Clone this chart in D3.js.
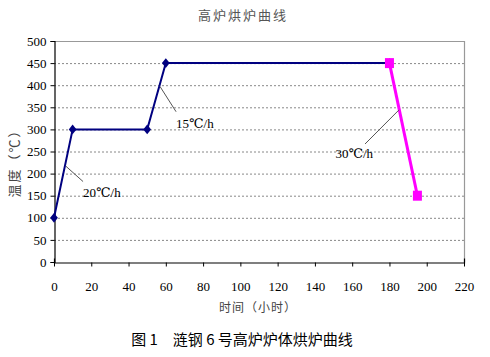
<!DOCTYPE html>
<html><head><meta charset="utf-8">
<script src="https://cdn.jsdelivr.net/npm/d3@7"></script>
<style>body{margin:0;background:#fff}svg{display:block}</style>
</head><body><svg id="c" width="490" height="357"></svg>
<script>
const heatX = [0, 10, 50, 60, 180];
const heatY = [100, 300, 300, 450, 450];
const coolX = [180, 195];
const coolY = [450, 150];
const xTicks = [0,20,40,60,80,100,120,140,160,180,200,220];
const yTicks = [0,50,100,150,200,250,300,350,400,450,500];
const noteLabels = ["20℃/h", "15℃/h", "30℃/h"];
const noteFrom = [[6.3,217],[56.9,397],[185.1,344]];
const noteTo = [[15.6,182],[65.5,340],[166.9,267]];
const noteText = [[15.6,146],[65.5,304],[151,235]];
const title = "高炉烘炉曲线";
const xTitle = "时间（小时）";
const yTitle = "温度（℃）";
const caption = "图 1　涟钢 6 号高炉炉体烘炉曲线";

const svg = d3.select("#c");
const L=54, R=464, T=41, B=262;
const x = d3.scaleLinear().domain([0,220]).range([L,R]);
const y = d3.scaleLinear().domain([0,500]).range([B,T]);
const numFont = "'Liberation Serif', 'DejaVu Serif', serif";
const cjk = "'Noto Sans CJK SC', sans-serif";

// grid
svg.append("g").selectAll("line").data(yTicks.filter(d=>d>0&&d<500)).join("line")
  .attr("x1",L).attr("x2",R).attr("y1",d=>y(d)+0.5).attr("y2",d=>y(d)+0.5)
  .attr("stroke","#888").attr("stroke-dasharray","2,2").attr("stroke-width",1);
// frame top/right
svg.append("path").attr("d",`M${L},${T+0.5}H${R+0.5}V${B}`).attr("fill","none").attr("stroke","#999").attr("stroke-width",1.2);

// axes
const xa = svg.append("g").attr("transform",`translate(0,${B+0.5})`)
  .call(d3.axisBottom(x).tickValues(xTicks).tickSize(-4).tickPadding(19));
const ya = svg.append("g").attr("transform",`translate(${L+0.5},0)`)
  .call(d3.axisLeft(y).tickValues(yTicks).tickSize(4).tickPadding(4));
[xa,ya].forEach(a=>{
  a.select(".domain").attr("stroke","#000").attr("stroke-width",1.2);
  a.selectAll(".tick line").attr("stroke","#000");
  a.selectAll("text").attr("font-family",numFont).attr("font-size",13).attr("fill","#000");
});
xa.selectAll(".tick line").attr("y2",4).attr("y1",0);
ya.selectAll(".tick line").attr("x2",-4);

// lines
const line = d3.line().x(d=>x(d[0])).y(d=>y(d[1]));
const heat = heatX.map((v,i)=>[v,heatY[i]]);
const cool = coolX.map((v,i)=>[v,coolY[i]]);
svg.append("path").datum(heat).attr("d",line).attr("fill","none").attr("stroke","#000080").attr("stroke-width",2);
svg.append("path").datum(cool).attr("d",line).attr("fill","none").attr("stroke","#ff00ff").attr("stroke-width",3);
svg.append("g").selectAll("path").data(heat).join("path")
  .attr("d",d3.symbol(d3.symbolDiamond2,60))
  .attr("transform",d=>`translate(${x(d[0])},${y(d[1])}) scale(0.8,1)`).attr("fill","#000080");
svg.append("g").selectAll("rect").data(cool).join("rect")
  .attr("x",d=>x(d[0])-4.5).attr("y",d=>y(d[1])-5).attr("width",9).attr("height",10).attr("fill","#ff00ff");

// annotations
noteLabels.forEach((lab,i)=>{
  svg.append("line").attr("x1",x(noteFrom[i][0])).attr("y1",y(noteFrom[i][1]))
    .attr("x2",x(noteTo[i][0])).attr("y2",y(noteTo[i][1]))
    .attr("stroke","#555").attr("stroke-width",1);
  svg.append("text").attr("x",x(noteText[i][0])).attr("y",y(noteText[i][1]))
    .text(lab).attr("font-family",numFont).attr("font-size",13);
});

// titles
svg.append("text").attr("x",243).attr("y",20).attr("text-anchor","middle").attr("font-family",cjk)
  .attr("font-size",13).attr("letter-spacing",2).attr("fill","#555").text(title);
svg.append("text").attr("x",258).attr("y",312).attr("text-anchor","middle").attr("font-family",cjk)
  .attr("font-size",12).attr("letter-spacing",1).attr("fill","#444").text(xTitle);
svg.append("text").attr("transform","translate(19,160) rotate(-90)").attr("text-anchor","middle").attr("font-family",cjk)
  .attr("font-size",13).attr("letter-spacing",2).attr("fill","#444").text(yTitle);
svg.append("text").attr("x",242).attr("y",345).attr("text-anchor","middle").attr("font-family",cjk)
  .attr("font-size",15).attr("fill","#000").text(caption);
</script></body></html>
